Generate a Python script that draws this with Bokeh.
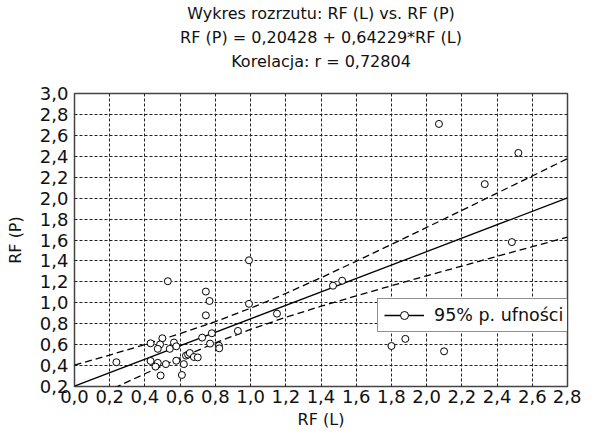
from bokeh.plotting import figure
from bokeh.models import (Range1d, FixedTicker, Legend, LegendItem,
                          ColumnDataSource, Title)
from bokeh.embed import file_html
from bokeh.resources import INLINE

# ---------------- data ----------------
rf_l = [0.238, 0.432, 0.499, 0.486, 0.473, 0.565, 0.578, 0.541, 0.432, 0.473,
        0.460, 0.519, 0.489, 0.578, 0.621, 0.610, 0.633, 0.645, 0.655, 0.678,
        0.700, 0.725, 0.780, 0.770, 0.820, 0.822, 0.746, 0.746, 0.767, 0.530,
        0.991, 0.991, 0.928, 1.150, 1.468, 1.520, 1.800, 1.879, 2.099, 2.070,
        2.521, 2.330, 2.484]
rf_p = [0.432, 0.613, 0.661, 0.602, 0.560, 0.620, 0.584, 0.560, 0.444, 0.426,
        0.390, 0.414, 0.305, 0.446, 0.414, 0.310, 0.495, 0.505, 0.520, 0.482,
        0.478, 0.667, 0.709, 0.610, 0.590, 0.565, 0.880, 1.107, 1.017, 1.206,
        1.406, 0.990, 0.731, 0.896, 1.163, 1.211, 0.587, 0.655, 0.536, 2.709,
        2.432, 2.134, 1.580]

fit_intercept = 0.20428
fit_slope = 0.64229
correlation = "0,72804"

band_x = [0.0, 0.2, 0.4, 0.6, 0.8, 1.0, 1.2, 1.4, 1.6, 1.8, 2.0, 2.2, 2.4, 2.6, 2.8]
band_upper = [0.404, 0.501, 0.600, 0.705, 0.820, 0.948, 1.089, 1.240, 1.397,
              1.558, 1.720, 1.883, 2.048, 2.212, 2.378]
band_lower = [0.004, 0.165, 0.322, 0.474, 0.617, 0.746, 0.861, 0.967, 1.066,
              1.163, 1.258, 1.351, 1.444, 1.536, 1.628]

x_ticks = [0.0, 0.2, 0.4, 0.6, 0.8, 1.0, 1.2, 1.4, 1.6, 1.8, 2.0, 2.2, 2.4, 2.6, 2.8]
x_tick_labels = ["0,0", "0,2", "0,4", "0,6", "0,8", "1,0", "1,2", "1,4",
                 "1,6", "1,8", "2,0", "2,2", "2,4", "2,6", "2,8"]
y_ticks = [0.2, 0.4, 0.6, 0.8, 1.0, 1.2, 1.4, 1.6, 1.8, 2.0, 2.2, 2.4, 2.6, 2.8, 3.0]
y_tick_labels = ["0,2", "0,4", "0,6", "0,8", "1,0", "1,2", "1,4", "1,6",
                 "1,8", "2,0", "2,2", "2,4", "2,6", "2,8", "3,0"]

title_line1 = "Wykres rozrzutu: RF (L) vs. RF (P)"
title_line2 = "RF (P) = 0,20428 + 0,64229*RF (L)"
title_line3 = "Korelacja: r = " + correlation
x_label = "RF (L)"
y_label = "RF (P)"
legend_label = "95% p. ufności"

FONT = "DejaVu Sans"
TXT = "#111111"

# ---------------- figure ----------------
p = figure(width=581, height=432, output_backend="svg", toolbar_location=None,
           title=None,
           x_range=Range1d(x_ticks[0], x_ticks[-1]),
           y_range=Range1d(y_ticks[0], y_ticks[-1]),
           min_border_left=74, min_border_right=14,
           min_border_top=86, min_border_bottom=46,
           background_fill_color="white", border_fill_color="white")

p.outline_line_color = "#444444"
p.outline_line_width = 1.5

xt = FixedTicker(ticks=x_ticks)
yt = FixedTicker(ticks=y_ticks)
p.xaxis.ticker = xt
p.yaxis.ticker = yt
p.xgrid.ticker = xt
p.ygrid.ticker = yt
p.xaxis.major_label_overrides = dict(zip(x_ticks, x_tick_labels))
p.yaxis.major_label_overrides = dict(zip(y_ticks, y_tick_labels))

for ax in (p.xaxis[0], p.yaxis[0]):
    ax.axis_line_color = None
    ax.major_tick_line_color = None
    ax.minor_tick_line_color = None
    ax.major_tick_in = 0
    ax.major_tick_out = 0
    ax.major_label_text_font = FONT
    ax.major_label_text_font_size = "18px"
    ax.major_label_text_color = TXT
    ax.axis_label_text_font = FONT
    ax.axis_label_text_font_size = "16px"
    ax.axis_label_text_font_style = "normal"
    ax.axis_label_text_color = TXT

p.xaxis.axis_label = x_label
p.yaxis.axis_label = y_label
p.xaxis.major_label_standoff = 3
p.xaxis.axis_label_standoff = 4
p.yaxis.major_label_standoff = 6
p.yaxis.axis_label_standoff = 12

for g in (p.xgrid[0], p.ygrid[0]):
    g.grid_line_color = "#222222"
    g.grid_line_width = 1
    g.grid_line_dash = "3 2"

# bands and fit
p.line(band_x, band_upper, line_color="black", line_width=1.3, line_dash="7 4")
p.line(band_x, band_lower, line_color="black", line_width=1.3, line_dash="7 4")
fit_x = [x_ticks[0], x_ticks[-1]]
fit_y = [fit_intercept + fit_slope * v for v in fit_x]
fit_line = p.line(fit_x, fit_y, line_color="black", line_width=1.3)

src = ColumnDataSource(dict(x=rf_l, y=rf_p))
sc = p.scatter("x", "y", source=src, marker="circle", size=7,
               fill_color="white", line_color="black", line_width=1)

legend = Legend(items=[LegendItem(label=legend_label, renderers=[fit_line, sc])],
                location=(303, 54), orientation="vertical")
legend.padding = 6
legend.margin = 0
legend.spacing = 0
legend.glyph_width = 40
legend.glyph_height = 20
legend.label_standoff = 10
legend.label_height = 20
legend.label_text_font = FONT
legend.label_text_font_size = "17.5px"
legend.label_text_color = TXT
legend.border_line_color = "#222222"
legend.border_line_width = 1
legend.background_fill_color = "white"
legend.background_fill_alpha = 1
p.add_layout(legend)

# three-line title (closest line added first); a blank spacer keeps the
# gap between the last title line and the plot frame
common = dict(text_font=FONT, text_font_size="16px", text_color=TXT,
              text_font_style="normal", align="center")
p.add_layout(Title(text=" ", standoff=0, **common), "above")
p.add_layout(Title(text=title_line3, standoff=3, **common), "above")
p.add_layout(Title(text=title_line2, standoff=3, **common), "above")
p.add_layout(Title(text=title_line1, standoff=3, **common), "above")

open("out.html", "w").write(file_html(p, INLINE))
